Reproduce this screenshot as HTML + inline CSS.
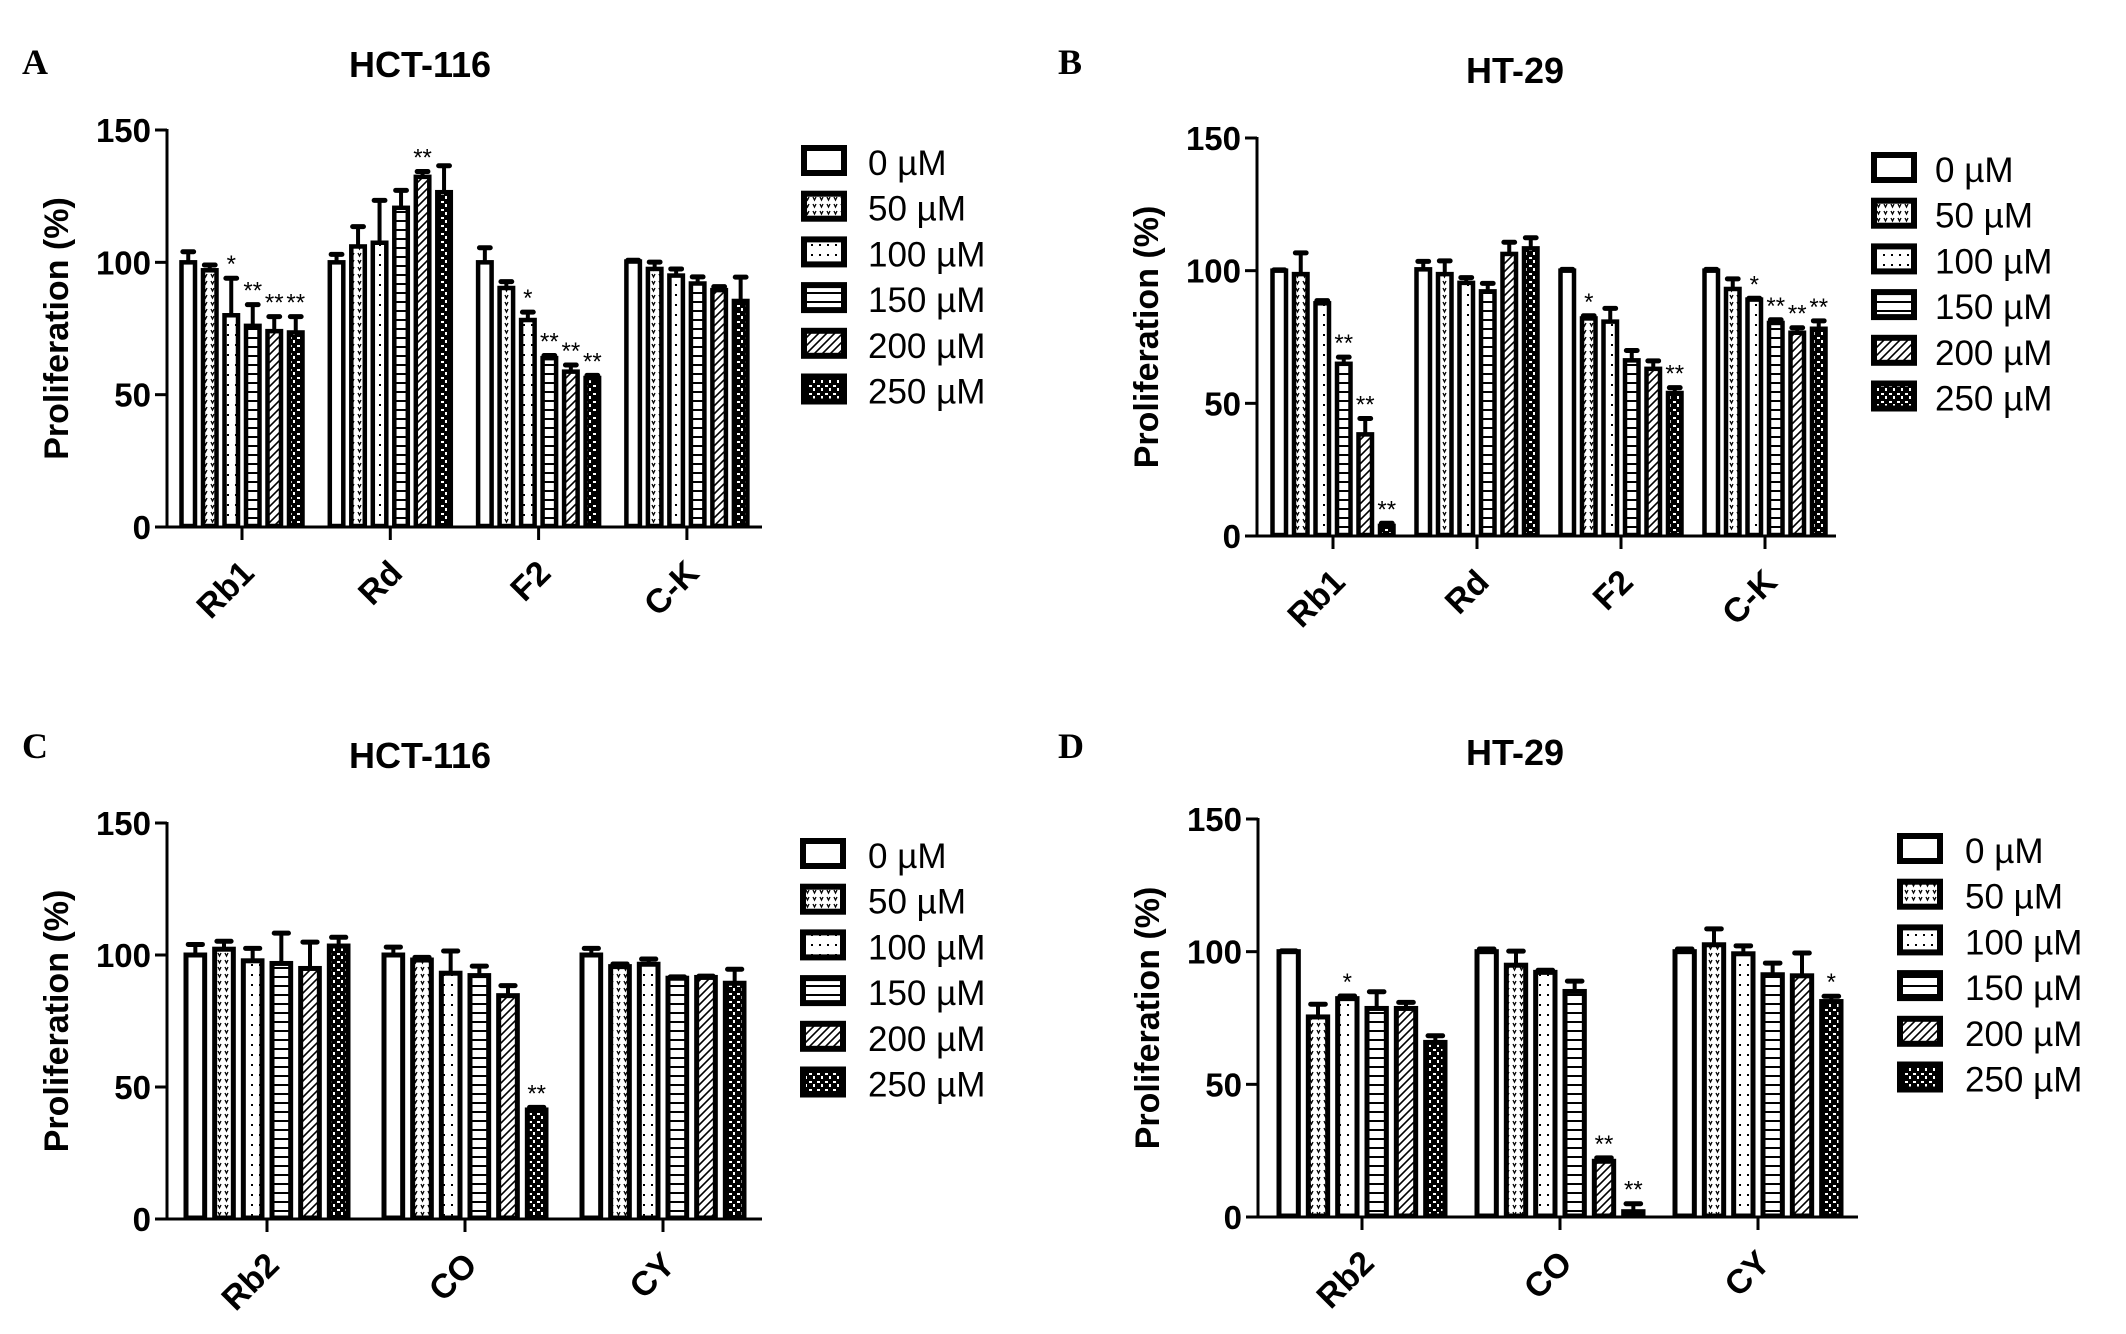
<!DOCTYPE html>
<html><head><meta charset="utf-8">
<style>
html,body{margin:0;padding:0;background:#fff;}
svg{display:block;font-family:"Liberation Sans",Arial,sans-serif;}
</style></head>
<body>
<svg id="fig" width="2126" height="1334" viewBox="0 0 2126 1334" xmlns="http://www.w3.org/2000/svg">
<defs>
<pattern id="p50" patternUnits="userSpaceOnUse" width="7" height="7"><rect width="7" height="7" fill="#fff"/><path d="M1 1 L2.5 4 L4 1" stroke="#000" stroke-width="1.3" fill="none"/></pattern>
<pattern id="p100" patternUnits="userSpaceOnUse" width="8" height="10"><rect width="8" height="10" fill="#fff"/><rect x="3" y="4" width="2" height="2" fill="#000"/></pattern>
<pattern id="p150" patternUnits="userSpaceOnUse" width="8" height="9"><rect width="8" height="9" fill="#fff"/><rect x="0" y="4" width="8" height="2" fill="#000"/></pattern>
<pattern id="p200" patternUnits="userSpaceOnUse" width="8" height="8"><rect width="8" height="8" fill="#fff"/><path d="M-2 10 L10 -2 M-2 2 L2 -2 M6 10 L10 6" stroke="#000" stroke-width="1.6"/></pattern>
<pattern id="p250" patternUnits="userSpaceOnUse" width="8" height="8"><rect width="8" height="8" fill="#000"/><rect x="1" y="1" width="3" height="2" fill="#fff"/><rect x="5" y="4" width="2" height="3" fill="#fff"/></pattern>
</defs>
<g id="root"></g>
</svg>
<script>
// ---------- data ----------
const doseLabels = ["0 µM","50 µM","100 µM","150 µM","200 µM","250 µM"];
const yTicks = [0,50,100,150];

const aCats = ["Rb1","Rd","F2","C-K"];
const aRb1 = [100,97,80,76,74,73.5];
const aRd  = [100,106,107.4,120.6,132.3,126.5];
const aF2  = [100,90.3,78.2,63.8,58.7,56.3];
const aCK  = [100.3,97.5,95,92,89.5,85.4];
const aErrRb1 = [4,2,14,8,5.5,6];
const aErrRd  = [3,7.5,16,6.6,2,10];
const aErrF2  = [5.5,2.4,3,1,2.5,1];
const aErrCK  = [0.5,2.6,2.5,2.5,1.3,9];
const aStarRb1 = ["","","*","**","**","**"];
const aStarRd  = ["","","","","**",""];
const aStarF2  = ["","","*","**","**","**"];
const aStarCK  = ["","","","","",""];

const bCats = ["Rb1","Rd","F2","C-K"];
const bRb1 = [100,98.7,87.7,64.9,38.3,3.8];
const bRd  = [100.5,98.7,95.4,92.2,106.3,108.4];
const bF2  = [100,82,80.8,66.2,63,53.9];
const bCK  = [100,93.1,89.1,80.3,76.6,78.1];
const bErrRb1 = [0.3,8,1,2.5,6,1];
const bErrRd  = [3,5,2,3,4.4,4];
const bErrF2  = [0.5,1,5,3.7,3,2];
const bErrCK  = [0.5,3.8,0.5,1.2,1.9,3];
const bStarRb1 = ["","","","**","**","**"];
const bStarRd  = ["","","","","",""];
const bStarF2  = ["","*","","","","**"];
const bStarCK  = ["","","*","**","**","**"];

const cCats = ["Rb2","CO","CY"];
const cRb2 = [100,102.2,97.8,96.8,94.9,103.4];
const cCO  = [100,98.1,93.1,92.2,84.6,41.3];
const cCY  = [100,95.6,96.5,91.2,91.5,89.3];
const cErrRb2 = [4,3,4.7,11.5,10,3.3];
const cErrCO  = [3,1,8.4,3.6,3.8,1];
const cErrCY  = [2.5,1,2,0.5,0.5,5.3];
const cStarRb2 = ["","","","","",""];
const cStarCO  = ["","","","","","**"];
const cStarCY  = ["","","","","",""];

const dCats = ["Rb2","CO","CY"];
const dRb2 = [100,75.4,82.3,78.6,78.6,65.8];
const dCO  = [100,94.9,92.2,85,21,2];
const dCY  = [100,102.6,99.2,91.3,90.9,81.2];
const dErrRb2 = [0.3,4.8,1,6.3,2.3,2.5];
const dErrCO  = [1,5.3,0.8,3.9,1.3,3];
const dErrCY  = [1,6,3,4.4,8.6,2];
const dStarRb2 = ["","","*","","",""];
const dStarCO  = ["","","","","**","**"];
const dStarCY  = ["","","","","","*"];

// ---------- drawing ----------
const NS = "http://www.w3.org/2000/svg";
const root = document.getElementById("root");
const fills = ["#fff","url(#p50)","url(#p100)","url(#p150)","url(#p200)","url(#p250)"];
function mk(tag, attrs, parent){
  const e = document.createElementNS(NS, tag);
  for (const k in attrs) e.setAttribute(k, attrs[k]);
  (parent||root).appendChild(e);
  return e;
}
function panel(cfg){
  const g = mk("g", {});
  
  
  const y = v => cfg.y0 - (v/150)*(cfg.y0 - cfg.y150);
  const L = mk("text", {x:cfg.lx, y:cfg.ly, "font-family":"'Liberation Serif',serif", "font-weight":"bold", "font-size":36}, g);
  L.textContent = cfg.letter;
  
  
  const T = mk("text", {x:cfg.tx, y:cfg.ty, "text-anchor":"middle", "font-weight":"bold", "font-size":36}, g);
  T.textContent = cfg.title;
  
  
  const ya = mk("line", {x1:cfg.ax, y1:y(150)-1, x2:cfg.ax, y2:cfg.y0+1.5, stroke:"#000", "stroke-width":3}, g);
  
  
  yTicks.forEach(t => {
    mk("line", {x1:cfg.ax-12, y1:y(t), x2:cfg.ax, y2:y(t), stroke:"#000", "stroke-width":3}, g);
    const tl = mk("text", {x:cfg.ax-16, y:y(t)+12, "text-anchor":"end", "font-weight":"bold", "font-size":33}, g);
    tl.textContent = t;
    
    
  });
  const yl = mk("text", {x:0, y:0, "text-anchor":"middle", "font-weight":"bold", "font-size":34,
    transform:`translate(${cfg.ax-99},${(y(150)+cfg.y0)/2}) rotate(-90)`}, g);
  yl.textContent = "Proliferation (%)";
  
  
  const xa = mk("line", {x1:cfg.ax, y1:cfg.y0, x2:cfg.xEnd, y2:cfg.y0, stroke:"#000", "stroke-width":3}, g);
  
  
  cfg.cats.forEach((c, i) => {
    const gx = cfg.g0 + i*cfg.gs;
    mk("line", {x1:gx, y1:cfg.y0, x2:gx, y2:cfg.y0+13, stroke:"#000", "stroke-width":3}, g);
    const xl = mk("text", {x:0, y:0, "text-anchor":"end", "font-weight":"bold", "font-size":34,
      transform:`translate(${gx+14},${cfg.y0+48}) rotate(-45)`}, g);
    xl.textContent = c;
    
    
    const pitch = cfg.gw/6;
    const bw = pitch - cfg.gap;
    cfg.vals[i].forEach((v, j) => {
      const bx = gx - cfg.gw/2 + j*pitch + cfg.gap/2;
      const top = y(v);
      const e = cfg.errs[i][j];
      const cx = bx + bw/2;
      if (e > 0.8) {
        const el = mk("line", {x1:cx, y1:y(v+e), x2:cx, y2:top, stroke:"#000", "stroke-width":4}, g);
        
        
      }
      mk("line", {x1:cx-bw*0.3, y1:y(v+e), x2:cx+bw*0.3, y2:y(v+e), stroke:"#000", "stroke-width":5, "stroke-linecap":"round"}, g);
      const r = mk("rect", {x:bx+cfg.sw/2, y:top, width:bw-cfg.sw, height:Math.max(cfg.y0-top-1,0.5), fill:fills[j], stroke:"#000", "stroke-width":cfg.sw}, g);
      
      
      const s = cfg.stars[i][j];
      if (s) {
        const st = mk("text", {x:cx, y:y(v+e)-6, "text-anchor":"middle", "font-size":24}, g);
        st.textContent = s;
        
        
      }
    });
  });
  doseLabels.forEach((d, j) => {
    const ty = cfg.lgTop + j*45.7;
    const lb = mk("rect", {x:cfg.lgX+3, y:ty+3, width:40, height:25, fill:fills[j], stroke:"#000", "stroke-width":6}, g);
    
    
    const lt = mk("text", {x:cfg.lgTx, y:ty+30, "font-size":35}, g);
    lt.textContent = d;
    
    
  });
}
panel({letter:"A", lx:22, ly:74, title:"HCT-116", tx:420, ty:77,
  ax:167, y0:527, y150:130, xEnd:762, g0:242, gs:148.3, gw:129, gap:3.5, sw:4.5,
  cats:aCats, vals:[aRb1,aRd,aF2,aCK], errs:[aErrRb1,aErrRd,aErrF2,aErrCK], stars:[aStarRb1,aStarRd,aStarF2,aStarCK],
  lgX:801, lgTop:145, lgTx:868});
panel({letter:"B", lx:1058, ly:74, title:"HT-29", tx:1515, ty:83,
  ax:1257, y0:536, y150:138, xEnd:1836, g0:1333, gs:144, gw:129, gap:3.5, sw:4.5,
  cats:bCats, vals:[bRb1,bRd,bF2,bCK], errs:[bErrRb1,bErrRd,bErrF2,bErrCK], stars:[bStarRb1,bStarRd,bStarF2,bStarCK],
  lgX:1871, lgTop:152, lgTx:1935});
panel({letter:"C", lx:22, ly:758, title:"HCT-116", tx:420, ty:768,
  ax:167, y0:1219, y150:823, xEnd:762, g0:267, gs:198, gw:172, gap:5, sw:5,
  cats:cCats, vals:[cRb2,cCO,cCY], errs:[cErrRb2,cErrCO,cErrCY], stars:[cStarRb2,cStarCO,cStarCY],
  lgX:800, lgTop:838, lgTx:868});
panel({letter:"D", lx:1058, ly:758, title:"HT-29", tx:1515, ty:765,
  ax:1258, y0:1217, y150:819, xEnd:1858, g0:1362, gs:198, gw:176, gap:5, sw:5,
  cats:dCats, vals:[dRb2,dCO,dCY], errs:[dErrRb2,dErrCO,dErrCY], stars:[dStarRb2,dStarCO,dStarCY],
  lgX:1897, lgTop:833, lgTx:1965});
</script>
</body></html>
